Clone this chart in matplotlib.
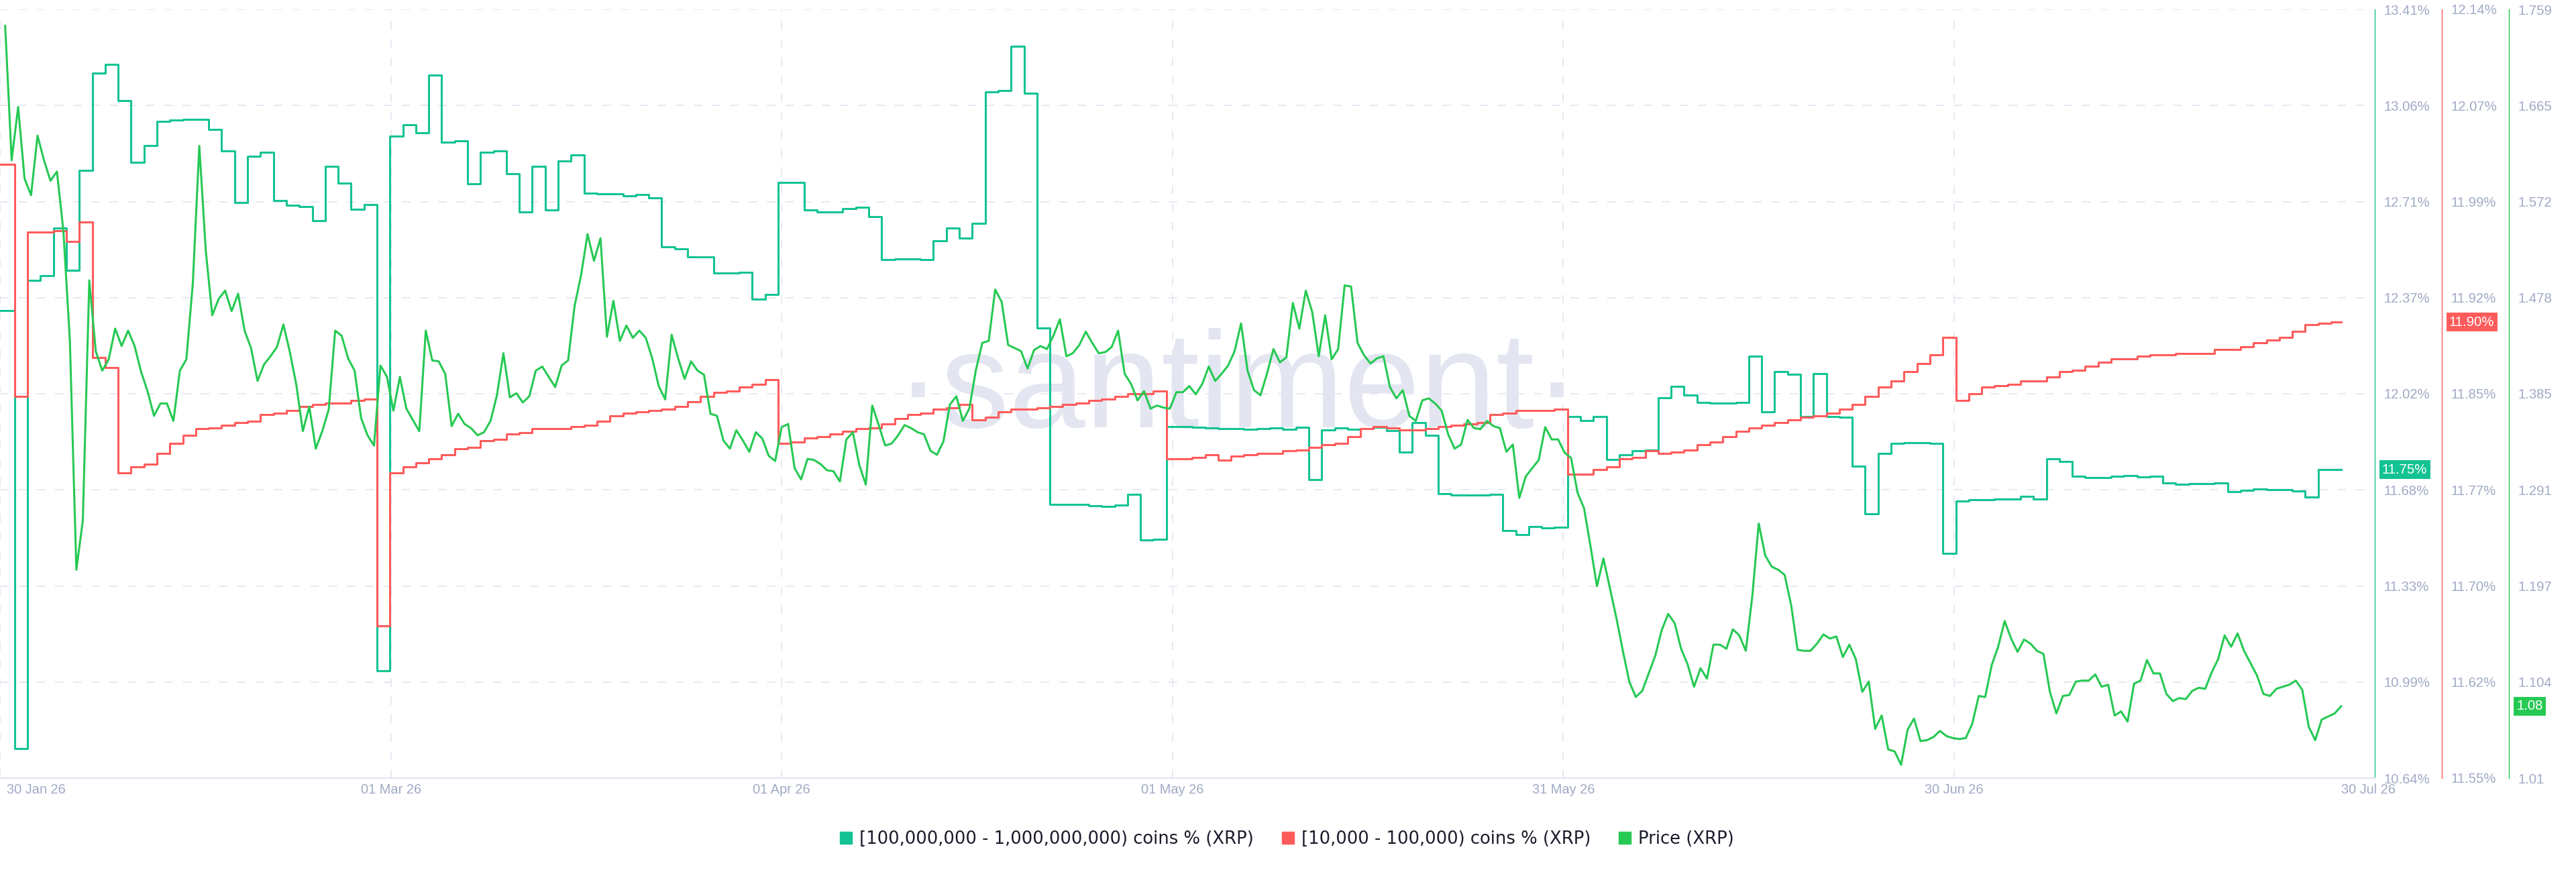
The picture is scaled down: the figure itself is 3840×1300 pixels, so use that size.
import numpy as np
import pandas as pd
import matplotlib
matplotlib.use("Agg")
import matplotlib.pyplot as plt
from matplotlib.lines import Line2D
from matplotlib.transforms import ScaledTranslation

# ---- data ----
start = pd.Timestamp("2026-01-30")

# XRP price, one reading every 12 hours (first one 30 Jan ~10:00)
price = [
    1.743, 1.612, 1.664, 1.594, 1.578, 1.636, 1.612, 1.592, 1.601, 1.543,
    1.436, 1.213, 1.261, 1.495, 1.426, 1.407, 1.418, 1.448, 1.431, 1.446,
    1.431, 1.406, 1.387, 1.363, 1.375, 1.375, 1.358, 1.407, 1.418, 1.492,
    1.626, 1.524, 1.461, 1.477, 1.485, 1.465, 1.482, 1.446, 1.429, 1.397,
    1.413, 1.421, 1.430, 1.452, 1.425, 1.393, 1.348, 1.372, 1.331, 1.348,
    1.369, 1.446, 1.441, 1.419, 1.407, 1.361, 1.344, 1.334, 1.412, 1.401,
    1.368, 1.401, 1.370, 1.359, 1.348, 1.446, 1.417, 1.416, 1.404, 1.353,
    1.365, 1.355, 1.351, 1.344, 1.347, 1.358, 1.383, 1.424, 1.381, 1.385,
    1.376, 1.382, 1.407, 1.411, 1.401, 1.391, 1.412, 1.417, 1.470, 1.500,
    1.540, 1.514, 1.536, 1.440, 1.475, 1.436, 1.451, 1.439, 1.446, 1.439,
    1.419, 1.392, 1.379, 1.442, 1.419, 1.399, 1.416, 1.407, 1.403, 1.365,
    1.363, 1.339, 1.331, 1.349, 1.339, 1.328, 1.347, 1.341, 1.324, 1.319,
    1.352, 1.355, 1.312, 1.301, 1.321, 1.320, 1.316, 1.310, 1.309, 1.299,
    1.340, 1.347, 1.315, 1.296, 1.373, 1.354, 1.334, 1.336, 1.344, 1.354,
    1.351, 1.347, 1.345, 1.329, 1.325, 1.338, 1.374, 1.382, 1.358, 1.370,
    1.407, 1.434, 1.436, 1.486, 1.474, 1.432, 1.429, 1.426, 1.409, 1.427,
    1.431, 1.428, 1.441, 1.457, 1.421, 1.424, 1.432, 1.445, 1.434, 1.424,
    1.425, 1.430, 1.446, 1.404, 1.394, 1.378, 1.387, 1.370, 1.373, 1.371,
    1.370, 1.386, 1.386, 1.392, 1.384, 1.394, 1.411, 1.397, 1.404, 1.412,
    1.426, 1.453, 1.407, 1.388, 1.383, 1.404, 1.428, 1.415, 1.420, 1.473,
    1.448, 1.485, 1.464, 1.421, 1.461, 1.418, 1.428, 1.490, 1.489, 1.434,
    1.422, 1.414, 1.419, 1.421, 1.391, 1.380, 1.388, 1.363, 1.358, 1.378,
    1.380, 1.375, 1.368, 1.345, 1.331, 1.335, 1.359, 1.351, 1.350, 1.358,
    1.353, 1.351, 1.328, 1.335, 1.283, 1.304, 1.312, 1.320, 1.352, 1.340,
    1.340, 1.327, 1.322, 1.288, 1.273, 1.236, 1.197, 1.224, 1.195, 1.166,
    1.134, 1.104, 1.089, 1.095, 1.112, 1.129, 1.154, 1.170, 1.161, 1.136,
    1.121, 1.099, 1.117, 1.107, 1.140, 1.140, 1.136, 1.155, 1.149, 1.134,
    1.187, 1.258, 1.227, 1.216, 1.213, 1.208, 1.179, 1.135, 1.134, 1.134,
    1.141, 1.150, 1.146, 1.148, 1.128, 1.140, 1.126, 1.094, 1.104, 1.058,
    1.071, 1.038, 1.036, 1.023, 1.057, 1.068, 1.046, 1.047, 1.050, 1.056,
    1.051, 1.049, 1.048, 1.049, 1.063, 1.090, 1.089, 1.120, 1.138, 1.163,
    1.146, 1.133, 1.145, 1.141, 1.134, 1.131, 1.094, 1.073, 1.090, 1.091,
    1.104, 1.105, 1.105, 1.111, 1.099, 1.101, 1.071, 1.075, 1.065, 1.102,
    1.105, 1.125, 1.112, 1.112, 1.092, 1.085, 1.088, 1.087, 1.095, 1.098,
    1.097, 1.113, 1.126, 1.149, 1.138, 1.151, 1.134, 1.122, 1.110, 1.092,
    1.090, 1.097, 1.099, 1.101, 1.105, 1.096, 1.060, 1.047, 1.067, 1.070,
    1.073, 1.080,
]

# % of supply held by each band, one daily snapshot (taken ~03:00)
whales_pct = [
    12.324, 12.324, 10.746, 12.433, 12.451, 12.622, 12.469, 12.829, 13.181, 13.212,
    13.082, 12.860, 12.920, 13.006, 13.011, 13.013, 13.013, 12.977, 12.901, 12.714,
    12.880, 12.894, 12.721, 12.703, 12.699, 12.649, 12.844, 12.784, 12.689, 12.707,
    11.026, 12.952, 12.995, 12.966, 13.172, 12.932, 12.936, 12.782, 12.896, 12.900,
    12.818, 12.681, 12.844, 12.687, 12.864, 12.885, 12.748, 12.745, 12.745, 12.737,
    12.743, 12.730, 12.555, 12.548, 12.517, 12.517, 12.460, 12.461, 12.463, 12.366,
    12.382, 12.786, 12.786, 12.687, 12.680, 12.680, 12.692, 12.696, 12.663, 12.508,
    12.510, 12.512, 12.508, 12.575, 12.622, 12.586, 12.640, 13.112, 13.118, 13.277,
    13.107, 12.261, 11.625, 11.626, 11.625, 11.621, 11.619, 11.623, 11.663, 11.497,
    11.500, 11.906, 11.906, 11.904, 11.902, 11.899, 11.899, 11.897, 11.899, 11.902,
    11.897, 11.904, 11.715, 11.895, 11.901, 11.897, 11.899, 11.904, 11.892, 11.814,
    11.922, 11.875, 11.664, 11.661, 11.659, 11.661, 11.663, 11.531, 11.517, 11.547,
    11.542, 11.545, 11.942, 11.928, 11.944, 11.787, 11.805, 11.819, 11.821, 12.011,
    12.052, 12.020, 11.993, 11.991, 11.991, 11.993, 12.160, 11.960, 12.104, 12.095,
    11.942, 12.097, 11.944, 11.940, 11.764, 11.592, 11.810, 11.845, 11.848, 11.848,
    11.845, 11.450, 11.639, 11.643, 11.643, 11.645, 11.646, 11.655, 11.646, 11.791,
    11.780, 11.727, 11.722, 11.722, 11.727, 11.731, 11.726, 11.727, 11.704, 11.699,
    11.700, 11.702, 11.704, 11.673, 11.677, 11.681, 11.679, 11.679, 11.675, 11.652,
    11.751, 11.751,
]
small_pct = [
    12.021, 12.021, 11.843, 11.969, 11.969, 11.970, 11.962, 11.977, 11.873, 11.865,
    11.784, 11.789, 11.791, 11.799, 11.807, 11.813, 11.818, 11.819, 11.821, 11.823,
    11.824, 11.829, 11.830, 11.832, 11.835, 11.837, 11.838, 11.838, 11.840, 11.841,
    11.667, 11.784, 11.789, 11.792, 11.795, 11.798, 11.803, 11.804, 11.809, 11.810,
    11.814, 11.815, 11.818, 11.818, 11.818, 11.820, 11.821, 11.824, 11.828, 11.830,
    11.831, 11.832, 11.833, 11.835, 11.839, 11.843, 11.846, 11.847, 11.850, 11.852,
    11.856, 11.807, 11.808, 11.811, 11.812, 11.814, 11.816, 11.818, 11.819, 11.822,
    11.826, 11.829, 11.830, 11.833, 11.834, 11.837, 11.825, 11.827, 11.831, 11.833,
    11.833, 11.834, 11.835, 11.837, 11.838, 11.840, 11.841, 11.843, 11.845, 11.845,
    11.847, 11.795, 11.795, 11.796, 11.798, 11.794, 11.797, 11.798, 11.799, 11.799,
    11.801, 11.802, 11.804, 11.806, 11.807, 11.812, 11.818, 11.820, 11.819, 11.817,
    11.817, 11.818, 11.820, 11.821, 11.822, 11.823, 11.829, 11.830, 11.832, 11.832,
    11.832, 11.833, 11.783, 11.783, 11.787, 11.789, 11.795, 11.796, 11.801, 11.799,
    11.800, 11.802, 11.806, 11.808, 11.812, 11.816, 11.819, 11.821, 11.823, 11.825,
    11.827, 11.828, 11.830, 11.833, 11.837, 11.843, 11.850, 11.855, 11.862, 11.868,
    11.875, 11.888, 11.840, 11.845, 11.850, 11.851, 11.852, 11.855, 11.855, 11.858,
    11.862, 11.863, 11.866, 11.869, 11.872, 11.872, 11.874, 11.875, 11.875, 11.876,
    11.876, 11.876, 11.879, 11.879, 11.881, 11.884, 11.886, 11.888, 11.893, 11.898,
    11.899, 11.900,
]

x_labels = ["30 Jan 26", "01 Mar 26", "01 Apr 26", "01 May 26",
            "31 May 26", "30 Jun 26", "30 Jul 26"]
whales_ticks = ["10.64%", "10.99%", "11.33%", "11.68%", "12.02%",
                "12.37%", "12.71%", "13.06%", "13.41%"]
small_ticks = ["11.55%", "11.62%", "11.70%", "11.77%", "11.85%",
               "11.92%", "11.99%", "12.07%", "12.14%"]
price_ticks = ["1.01", "1.104", "1.197", "1.291", "1.385",
               "1.478", "1.572", "1.665", "1.759"]
legend_labels = ["[100,000,000 - 1,000,000,000) coins % (XRP)",
                 "[10,000 - 100,000) coins % (XRP)",
                 "Price (XRP)"]

# ---- look ----
TEAL = "#14c393"
RED = "#ff5b5b"
GREEN = "#26c953"
MUTED = "#9faac4"
GRID = "#e6e9f2"
DASH = (0, (6.5, 7.5))
LW = 2.2

plt.rcParams["font.family"] = ["Liberation Sans", "DejaVu Sans"]

W, H = 3840, 1300
fig = plt.figure(figsize=(W / 100, H / 100), dpi=100)
plot_w = 3540  # px, plot box starts at the left edge
ax = fig.add_axes([0, 1 - 1160 / H, plot_w / W, 1146 / H])
ax2 = ax.twinx()
ax3 = ax.twinx()
ax.yaxis.tick_right()
ax2.spines["right"].set_position(("axes", 1 + 100 / plot_w))
ax3.spines["right"].set_position(("axes", 1 + 200 / plot_w))

# time stamps
price_t = start + pd.to_timedelta(0.4 + 0.5 * np.arange(len(price)), unit="D")
hold_t = start + pd.to_timedelta(np.arange(len(whales_pct)) - 0.87, unit="D")
data_end = start + pd.Timedelta(days=180.9)
hold_t = hold_t.append(pd.DatetimeIndex([data_end]))

ax.step(hold_t, whales_pct + whales_pct[-1:], where="post", color=TEAL, lw=LW, zorder=3)
ax2.step(hold_t, small_pct + small_pct[-1:], where="post", color=RED, lw=LW, zorder=3)
ax3.plot(price_t, price, color=GREEN, lw=LW, zorder=3)

ax.set_xlim(start, start + pd.Timedelta(days=183.5))

# y axes on the right
for axis, labels, color in ((ax, whales_ticks, TEAL), (ax2, small_ticks, RED),
                            (ax3, price_ticks, GREEN)):
    lo, hi = float(labels[0].rstrip("%")), float(labels[-1].rstrip("%"))
    axis.set_ylim(lo, hi)
    axis.set_yticks(np.linspace(lo, hi, len(labels)), labels)
    axis.tick_params(axis="y", length=0, pad=9.4, labelsize=14.6, labelcolor=MUTED)
    for side in ("left", "top", "bottom"):
        axis.spines[side].set_visible(False)
    axis.spines["right"].set_color(color)
    axis.spines["right"].set_linewidth(1.0)

ax.spines["bottom"].set_visible(True)
ax.spines["bottom"].set_color("#e1e5ee")
ax.spines["bottom"].set_linewidth(1.5)

# x ticks: evenly spaced labels, the last one sits at the end of the axis
tick_days = [0, 30.2, 60.4, 90.6, 120.8, 151.0, 183.0]
tick_t = [start + pd.Timedelta(days=d) for d in tick_days]
ax.set_xticks(tick_t, x_labels)
ax.tick_params(axis="x", length=0, pad=6, labelsize=14.4, labelcolor=MUTED)
first = ax.get_xticklabels()[0]
first.set_ha("left")
first.set_transform(first.get_transform() + ScaledTranslation(0.1, 0, fig.dpi_scale_trans))

ax.grid(axis="y", color=GRID, lw=1.4, ls=DASH)
for t in tick_t[:-1]:
    ax.axvline(t, color=GRID, lw=1.4, ls=DASH, zorder=1)

# watermark
ax.text(1845 / plot_w, 0.4564, "\u00b7santiment\u00b7", transform=ax.transAxes,
        ha="center", va="baseline", fontsize=147, color="#e3e6f1", zorder=0.5)

# last value badges next to each axis
def badge(axis, x_frac, value, text, color):
    axis.text(x_frac, value, text, transform=axis.get_yaxis_transform(),
              ha="left", va="center", fontsize=14.6, color="white", zorder=6,
              clip_on=False,
              bbox=dict(boxstyle="square,pad=0.22", fc=color, ec="none"))

badge(ax, 1 + 11 / plot_w, whales_pct[-1], f"{whales_pct[-1]:.2f}%", TEAL)
badge(ax2, 1 + 111 / plot_w, small_pct[-1], f"{small_pct[-1]:.2f}%", RED)
badge(ax3, 1 + 211 / plot_w, price[-1], f"{price[-1]:.2f}", GREEN)

# legend below the chart
handles = [Line2D([], [], ls="none", marker="s", ms=13.5, mfc=c, mec=c)
           for c in (TEAL, RED, GREEN)]
fig.legend(handles, legend_labels, loc="center", bbox_to_anchor=(1918 / W, 1 - 1251 / H),
           ncol=3, frameon=False, prop={"family": "DejaVu Sans", "size": 18.6},
           handlelength=0.75, handletextpad=0.4, columnspacing=1.6,
           labelcolor="#1b1d2c")

fig.savefig("out.png", dpi=100)
